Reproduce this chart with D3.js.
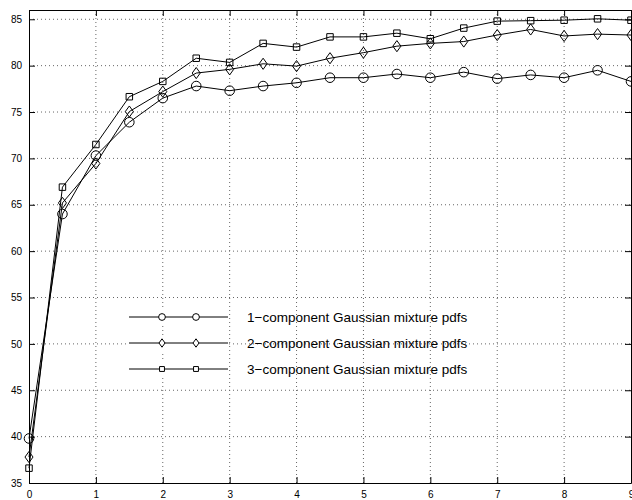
<!DOCTYPE html>
<html>
<head>
<meta charset="utf-8">
<script src="https://cdn.jsdelivr.net/npm/d3@7"></script>
<style>
  body { margin: 0; background: #fff; }
  svg { display: block; font-family: "Liberation Sans", Arial, sans-serif; }
</style>
</head>
<body>
<div id="chart"></div>
<script>
const xValues = [0, 0.5, 1, 1.5, 2, 2.5, 3, 3.5, 4, 4.5, 5, 5.5, 6, 6.5, 7, 7.5, 8, 8.5, 9];
const oneComp = [39.8, 64.0, 70.3, 73.9, 76.5, 77.8, 77.3, 77.8, 78.15, 78.7, 78.7, 79.1, 78.7, 79.3, 78.6, 79.0, 78.7, 79.5, 78.3];
const twoComp = [37.8, 65.2, 69.45, 75.05, 77.2, 79.2, 79.6, 80.2, 79.95, 80.8, 81.4, 82.1, 82.4, 82.6, 83.3, 83.9, 83.2, 83.4, 83.3];
const threeComp = [36.6, 66.9, 71.5, 76.65, 78.3, 80.8, 80.35, 82.4, 82.0, 83.1, 83.1, 83.5, 82.9, 84.05, 84.8, 84.85, 84.9, 85.05, 84.9];
const xTicks = [0, 1, 2, 3, 4, 5, 6, 7, 8, 9];
const yTicks = [35, 40, 45, 50, 55, 60, 65, 70, 75, 80, 85];
const seriesNames = [
  '1\u2212component Gaussian mixture pdfs',
  '2\u2212component Gaussian mixture pdfs',
  '3\u2212component Gaussian mixture pdfs'
];

const width = 632, height = 500;
const svg = d3.select('#chart').append('svg')
  .attr('width', width)
  .attr('height', height);

const x = d3.scaleLinear().domain([0, 9]).range([29, 631]);
const y = d3.scaleLinear().domain([35, 86]).range([483, 10]);

// matlab-ish diamond: a bit wider than d3's
const wideDiamond = {
  draw(ctx, size) {
    const h = Math.sqrt(size) * 0.72;
    const w = h * 0.72;
    ctx.moveTo(0, -h);
    ctx.lineTo(w, 0);
    ctx.lineTo(0, h);
    ctx.lineTo(-w, 0);
    ctx.closePath();
  }
};

// dotted grid
svg.append('g').selectAll('line')
  .data(xTicks.slice(1, -1))
  .enter().append('line')
  .attr('x1', d => x(d)).attr('x2', d => x(d))
  .attr('y1', y.range()[1]).attr('y2', y.range()[0])
  .attr('stroke', '#666').attr('stroke-width', 1)
  .attr('stroke-dasharray', '1,3');

svg.append('g').selectAll('line')
  .data(yTicks.slice(1))
  .enter().append('line')
  .attr('x1', x.range()[0]).attr('x2', x.range()[1])
  .attr('y1', d => y(d)).attr('y2', d => y(d))
  .attr('stroke', '#666').attr('stroke-width', 1)
  .attr('stroke-dasharray', '1,3');

// frame with inward ticks
const frame = svg.append('g');
frame.append('g')
  .attr('transform', `translate(0,${y.range()[0]})`)
  .call(d3.axisBottom(x).tickValues(xTicks).tickSizeInner(-6).tickSizeOuter(0).tickPadding(8).tickFormat(d3.format('d')));
frame.append('g')
  .attr('transform', `translate(0,${y.range()[1]})`)
  .call(d3.axisTop(x).tickValues(xTicks).tickSizeInner(-6).tickSizeOuter(0).tickFormat(''));
frame.append('g')
  .attr('transform', `translate(${x.range()[0]},0)`)
  .call(d3.axisLeft(y).tickValues(yTicks).tickSizeInner(-6).tickSizeOuter(0).tickPadding(7).tickFormat(d3.format('d')));
frame.append('g')
  .attr('transform', `translate(${x.range()[1]},0)`)
  .call(d3.axisRight(y).tickValues(yTicks).tickSizeInner(-6).tickSizeOuter(0).tickFormat(''));
frame.selectAll('.domain').attr('stroke', '#000').attr('stroke-width', 1);
frame.selectAll('.tick line').attr('stroke', '#000');
frame.selectAll('.tick text')
  .attr('fill', '#000')
  .style('font-family', '"Liberation Sans", Arial, sans-serif')
  .style('font-size', '10px');

// series
const series = [
  { name: seriesNames[0], values: oneComp, symbol: d3.symbolCircle, size: 72, legendSize: 36 },
  { name: seriesNames[1], values: twoComp, symbol: wideDiamond, size: 60, legendSize: 34 },
  { name: seriesNames[2], values: threeComp, symbol: d3.symbolSquare, size: 42, legendSize: 24 }
];

const line = d3.line()
  .x((d, i) => x(xValues[i]))
  .y(d => y(d));

series.forEach(s => {
  const g = svg.append('g');
  g.append('path')
    .attr('d', line(s.values))
    .attr('fill', 'none')
    .attr('stroke', '#000')
    .attr('stroke-width', 1);
  g.selectAll('path.m')
    .data(s.values)
    .enter().append('path')
    .attr('class', 'm')
    .attr('transform', (d, i) => `translate(${x(xValues[i])},${y(d)})`)
    .attr('d', d3.symbol().type(s.symbol).size(s.size))
    .attr('fill', 'none')
    .attr('stroke', '#000')
    .attr('stroke-width', 1);
});

// legend
const legend = svg.append('g').attr('transform', 'translate(129,317)');
series.forEach((s, i) => {
  const row = legend.append('g').attr('transform', `translate(0,${i * 26})`);
  row.append('rect')
    .attr('x', -2).attr('y', -8).attr('width', 102).attr('height', 16)
    .attr('fill', '#fff');
  row.append('line')
    .attr('x1', 0).attr('x2', 99)
    .attr('stroke', '#000').attr('stroke-width', 1);
  [33, 67].forEach(px => {
    row.append('path')
      .attr('transform', `translate(${px},0)`)
      .attr('d', d3.symbol().type(s.symbol).size(s.legendSize))
      .attr('fill', '#fff')
      .attr('stroke', '#000');
  });
  row.append('text')
    .attr('x', 118).attr('y', 5)
    .style('font-size', '13.5px')
    .attr('fill', '#000')
    .text(s.name);
});
</script>
</body>
</html>
